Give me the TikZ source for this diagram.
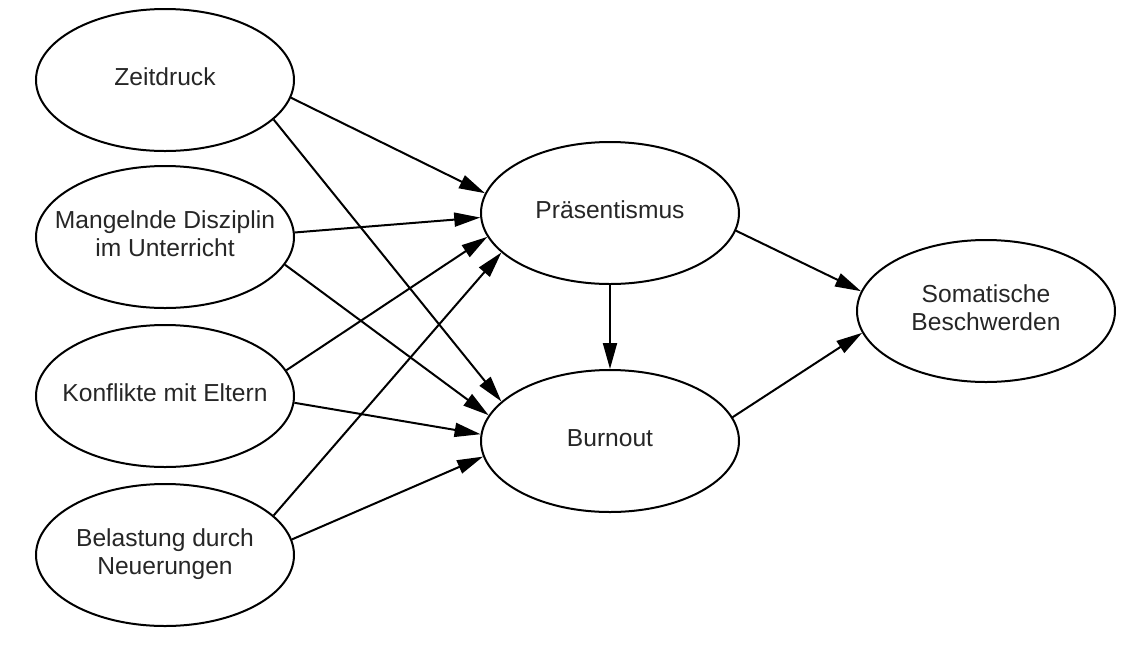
\documentclass[tikz,border=0pt]{standalone}
\usepackage{fontspec}
\setmainfont{Liberation Sans}
\usetikzlibrary{shapes.geometric,arrows.meta}
\newcommand{\elltext}[1]{\makebox[0pt]{\begin{tabular}{@{}c@{}}#1\end{tabular}}}
\tikzset{
  ell/.style={draw, ellipse, line width=1pt, minimum width=129pt, minimum height=71pt, inner sep=0pt, font=\fontsize{12.3}{14}\selectfont, text=black!85},
  arr/.style={-{Triangle[length=13pt,width=7pt]}, line width=1pt}
}
\begin{document}
\begin{tikzpicture}[x=0.5pt,y=-0.5pt]
\useasboundingbox (0,0) rectangle (1132,644);
\node[ell] (zeit) at (165,80) {\elltext{Zeitdruck}};
\node[ell] (mang) at (165,237) {\elltext{Mangelnde Disziplin\\im Unterricht}};
\node[ell] (konf) at (165,396) {\elltext{Konflikte mit Eltern}};
\node[ell] (bel) at (165,555) {\elltext{Belastung durch\\Neuerungen}};
\node[ell] (praes) at (610,213) {\elltext{Präsentismus}};
\node[ell] (burn) at (610,441) {\elltext{Burnout}};
\node[ell] (soma) at (986,311) {\elltext{Somatische\\Beschwerden}};
\draw[arr] (zeit.-8) -- (praes.171);
\draw[arr] (zeit.-20) -- (burn.160);
\draw[arr] (mang.2) -- (praes.182);
\draw[arr] (mang.-13.5) -- (burn.168);
\draw[arr] (konf.12) -- (praes.191.5);
\draw[arr] (konf.-3) -- (burn.177);
\draw[arr] (bel.20) -- (praes.200);
\draw[arr] (bel.7.6) -- (burn.187.6);
\draw[arr] (praes.south) -- (burn.north);
\draw[arr] (praes.-8.6) -- (soma.171);
\draw[arr] (burn.11) -- (soma.190);
\end{tikzpicture}
\end{document}
